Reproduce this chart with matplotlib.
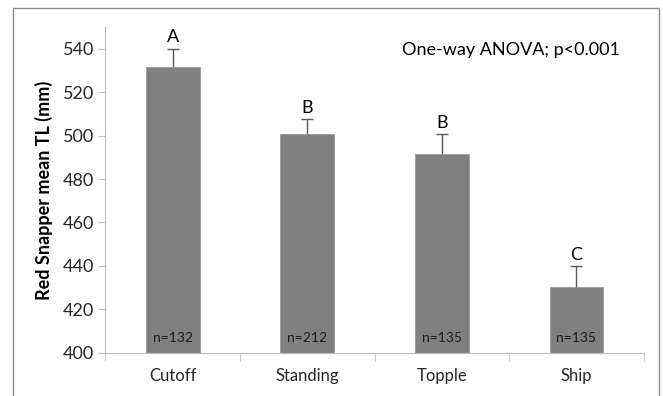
import numpy as np
import matplotlib
matplotlib.use("Agg")
import matplotlib.pyplot as plt
from matplotlib.patches import Rectangle

sites = ["Cutoff", "Standing", "Topple", "Ship"]
mean_tl = [531.4, 500.5, 491.6, 430.3]
se_tl = [8.6, 7.2, 8.9, 9.5]
groups = ["A", "B", "B", "C"]
n_fish = [132, 212, 135, 135]

plt.rcParams['font.family'] = ['Lato', 'DejaVu Sans']

fig = plt.figure(figsize=(6.63, 3.96), dpi=100)
ax = fig.add_axes([0.159, 0.109, 0.812, 0.823])

# outer frame of the chart area
fig.patches.append(Rectangle((0.019, -0.05), 0.975, 1.03, transform=fig.transFigure,
                             fill=False, edgecolor='#8c8c8c', linewidth=1.0))

x = np.arange(len(sites))
bar_col = '#808080'
ax.bar(x, mean_tl, width=0.4, bottom=0, color=bar_col, edgecolor='#9a9a9a', linewidth=0.6, zorder=2)
eb = ax.errorbar(x, mean_tl, yerr=[np.zeros(len(se_tl)), se_tl], fmt='none',
                 ecolor='#595959', elinewidth=1.0, capsize=4, capthick=1.0, zorder=3)
# only the upper cap is wanted
eb[1][0].set_visible(False)

for xi, m, s, g, n in zip(x, mean_tl, se_tl, groups, n_fish):
    ax.text(xi, m + s + 1.5, g, ha='center', va='bottom', fontsize=13, color='black')
    ax.text(xi, 407, "n=%d" % n, ha='center', va='center', fontsize=10, color='#1a1a1a')

ax.text(0.753, 0.93, "One-way ANOVA; p<0.001", transform=ax.transAxes,
        ha='center', va='center', fontsize=13)

ax.set_ylim(400, 550)
ax.set_xlim(-0.5, 3.5)
ax.set_yticks(np.arange(400, 541, 20))
ax.set_xticks(x)
ax.set_xticklabels(sites)
ax.set_xticks(np.arange(-0.5, 3.6, 1.0), minor=True)
ax.tick_params(axis='x', which='major', length=0, pad=11, labelsize=12)
ax.tick_params(axis='x', which='minor', length=6, color='#bfbfbf', direction='out')
ax.tick_params(axis='y', length=5, color='#bfbfbf', labelsize=13, pad=3, labelcolor='#262626')
ax.tick_params(axis='x', labelcolor='#262626')

for side in ['top', 'right']:
    ax.spines[side].set_visible(False)
for side in ['left', 'bottom']:
    ax.spines[side].set_color('#bfbfbf')

ax.set_ylabel("Red Snapper mean TL (mm)", fontsize=13, fontweight='bold', labelpad=7)

fig.savefig("out.png", dpi=100)
